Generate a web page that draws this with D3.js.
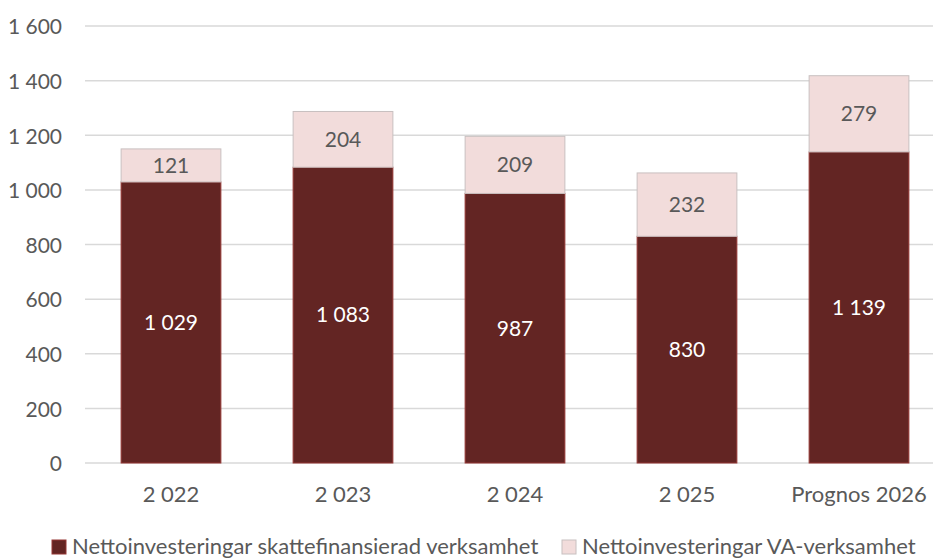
<!DOCTYPE html>
<html>
<head>
<meta charset="utf-8">
<script src="https://cdn.jsdelivr.net/npm/d3@7"></script>
<style>
  body { margin: 0; background: #fff; }
  svg text { font-family: Lato, "Open Sans", sans-serif; fill: #595959; }
</style>
</head>
<body>
<svg id="chart" width="933" height="559"></svg>
<script>
const categories = ['2 022', '2 023', '2 024', '2 025', 'Prognos 2026']
const skatt = [1029, 1083, 987, 830, 1139]
const va = [121, 204, 209, 232, 279]
const yTicks = [0, 200, 400, 600, 800, 1000, 1200, 1400, 1600]
const seriesNames = ['Nettoinvesteringar skattefinansierad verksamhet', 'Nettoinvesteringar VA-verksamhet']

const fmt = v => d3.format(',')(v).replace(/,/g, ' ')

const svg = d3.select('#chart')
const plotLeft = 85, plotRight = 945, plotTop = 26, plotBottom = 463

const x = d3.scaleBand().domain(categories).range([plotLeft, plotRight]).paddingInner(0.42).paddingOuter(0.21)
const y = d3.scaleLinear().domain([0, 1600]).range([plotBottom, plotTop])

// gridlines
svg.append('g').selectAll('line').data(yTicks).enter().append('line')
    .attr('x1', plotLeft).attr('x2', 933)
    .attr('y1', d => y(d)).attr('y2', d => y(d))
    .attr('stroke', '#d9d9d9').attr('stroke-width', 1.5)

// y labels
svg.append('g').selectAll('text').data(yTicks).enter().append('text')
    .attr('x', 62).attr('y', d => y(d) + 1).attr('dy', '0.35em')
    .attr('text-anchor', 'end').attr('font-size', 21)
    .text(d => fmt(d))

const stack = categories.map((c, i) => ({ c, a: skatt[i], b: va[i] }))

// dark bars
svg.append('g').selectAll('rect').data(stack).enter().append('rect')
    .attr('x', d => x(d.c)).attr('width', x.bandwidth())
    .attr('y', d => y(d.a)).attr('height', d => y(0) - y(d.a))
    .attr('fill', '#632523').attr('stroke', '#953735').attr('stroke-width', 1)

// light bars
svg.append('g').selectAll('rect').data(stack).enter().append('rect')
    .attr('x', d => x(d.c)).attr('width', x.bandwidth())
    .attr('y', d => y(d.a + d.b)).attr('height', d => y(d.a) - y(d.a + d.b))
    .attr('fill', '#f2dcdb').attr('stroke', '#c8c0c0').attr('stroke-width', 1)

// labels
svg.append('g').selectAll('text').data(stack).enter().append('text')
    .attr('x', d => x(d.c) + x.bandwidth() / 2)
    .attr('y', d => y(d.a / 2)).attr('dy', '0.35em')
    .attr('text-anchor', 'middle').attr('font-size', 21)
    .style('fill', '#ffffff')
    .text(d => fmt(d.a))

svg.append('g').selectAll('text').data(stack).enter().append('text')
    .attr('x', d => x(d.c) + x.bandwidth() / 2)
    .attr('y', d => y(d.a + d.b / 2)).attr('dy', '0.35em')
    .attr('text-anchor', 'middle').attr('font-size', 21)
    .text(d => fmt(d.b))

// x labels
svg.append('g').selectAll('text').data(categories).enter().append('text')
    .attr('x', d => x(d) + x.bandwidth() / 2).attr('y', 494).attr('dy', '0.35em')
    .attr('text-anchor', 'middle').attr('font-size', 22)
    .text(d => d)

// legend
const legend = [
    { name: seriesNames[0], fill: '#632523', stroke: '#953735', x: 52 },
    { name: seriesNames[1], fill: '#f2dcdb', stroke: '#c8c0c0', x: 562 }
]
const lg = svg.append('g').selectAll('g').data(legend).enter().append('g')
lg.append('rect').attr('x', d => d.x).attr('y', 540).attr('width', 14).attr('height', 14)
    .attr('fill', d => d.fill).attr('stroke', d => d.stroke)
lg.append('text').attr('x', d => d.x + 20).attr('y', 546.5).attr('dy', '0.35em').attr('font-size', 22)
    .text(d => d.name)
</script>
</body>
</html>
